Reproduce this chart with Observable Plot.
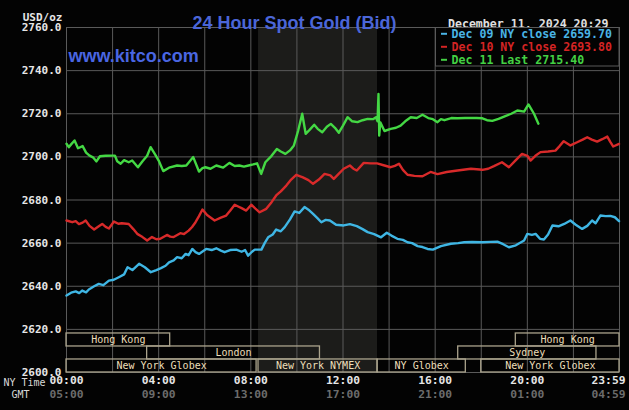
<!DOCTYPE html>
<html><head><meta charset="utf-8">
<script src="https://cdn.jsdelivr.net/npm/d3@7"></script>
<script src="https://cdn.jsdelivr.net/npm/@observablehq/plot@0.6"></script>
<style>
html,body{margin:0;padding:0;background:#000;}
#chart svg{display:block;}
</style>
</head><body><div id="chart"></div>
<script>
// ---- data ----
const yTicks = [2600, 2620, 2640, 2660, 2680, 2700, 2720, 2740, 2760];
const xGrid = [0, 2, 4, 6, 8, 10, 12, 14, 16, 18, 20, 22, 24];
const xTickHours = [0, 4, 8, 12, 16, 20];
const nyLabels = ["00:00", "04:00", "08:00", "12:00", "16:00", "20:00"];
const gmtLabels = ["05:00", "09:00", "13:00", "17:00", "21:00", "01:00"];
const endHour = [24];
const endNy = ["23:59"];
const endGmt = ["04:59"];
const nymexSpan = [[8.333, 13.5]];

const sessionNames = ["Hong Kong", "London", "New York Globex", "New York NYMEX", "NY Globex", "New York Globex", "Sydney", "Hong Kong"];
const sessionStart = [0, 3.5, 0, 8.333, 13.5, 18, 17, 19.5];
const sessionEnd = [4.5, 11, 8.25, 13.5, 17.33, 24, 23, 24];
const sessionRow = [0, 1, 2, 2, 2, 2, 1, 0];

const seriesNames = ["Dec 09 NY close 2659.70", "Dec 10 NY close 2693.80", "Dec 11 Last 2715.40"];
const titleText = "24 Hour Spot Gold (Bid)";
const siteText = "www.kitco.com";
const dateText = "December 11, 2024 20:29";
const unitText = "USD/oz";

const dec09 = [[0,2635.7],[0.2,2637.0],[0.4,2637.6],[0.55,2636.8],[0.68,2638.0],[0.85,2637.2],[0.97,2638.5],[1.2,2640.0],[1.4,2641.1],[1.6,2640.5],[1.84,2642.6],[2.05,2643.0],[2.27,2644.2],[2.5,2645.5],[2.65,2648.8],[2.86,2647.5],[3.15,2650.4],[3.4,2648.8],[3.66,2646.5],[3.9,2647.5],[4.1,2648.4],[4.3,2649.5],[4.45,2651.1],[4.65,2652.0],[4.8,2653.5],[5.0,2653.0],[5.17,2655.0],[5.3,2654.4],[5.46,2657.3],[5.6,2655.8],[5.75,2655.0],[6.06,2657.3],[6.3,2656.8],[6.5,2657.6],[6.7,2656.5],[6.86,2655.8],[7.1,2656.8],[7.37,2657.0],[7.6,2656.0],[7.75,2656.8],[7.88,2654.2],[8.05,2656.0],[8.17,2657.0],[8.46,2657.0],[8.6,2660.0],[8.75,2662.7],[8.95,2664.0],[9.1,2666.3],[9.3,2665.5],[9.47,2667.4],[9.7,2671.0],[9.9,2674.7],[10.1,2674.0],[10.33,2676.7],[10.5,2675.5],[10.7,2673.6],[10.9,2671.5],[11.06,2669.7],[11.25,2670.8],[11.43,2670.5],[11.7,2668.5],[12.03,2668.2],[12.3,2668.8],[12.6,2667.9],[12.85,2666.5],[13.07,2665.1],[13.35,2664.2],[13.65,2662.7],[13.9,2664.8],[14.1,2663.5],[14.36,2662.0],[14.6,2661.5],[14.8,2660.4],[15.0,2660.0],[15.24,2658.6],[15.45,2658.2],[15.67,2657.3],[15.9,2657.0],[16.25,2658.6],[16.68,2659.7],[17.0,2660.0],[17.26,2660.4],[17.6,2660.5],[18.05,2660.4],[18.4,2660.6],[18.7,2660.7],[18.95,2659.5],[19.2,2658.1],[19.5,2659.0],[19.86,2661.2],[20.0,2664.3],[20.2,2663.8],[20.36,2664.3],[20.55,2662.0],[20.72,2661.7],[20.9,2664.0],[21.09,2668.2],[21.35,2667.8],[21.6,2668.9],[21.87,2670.5],[22.1,2668.5],[22.38,2666.6],[22.6,2668.0],[22.81,2670.5],[22.96,2669.2],[23.17,2672.8],[23.4,2672.5],[23.6,2672.6],[23.8,2672.0],[23.98,2670.2]];

const dec10 = [[0,2670.5],[0.25,2669.7],[0.4,2670.2],[0.54,2668.8],[0.7,2669.5],[0.83,2670.5],[1.0,2668.0],[1.2,2666.3],[1.4,2667.8],[1.55,2668.9],[1.7,2667.5],[1.84,2666.8],[2.06,2670.0],[2.25,2669.0],[2.4,2669.2],[2.7,2668.9],[2.9,2666.5],[3.07,2664.3],[3.3,2662.8],[3.5,2661.2],[3.71,2662.8],[3.9,2661.8],[4.07,2662.0],[4.36,2663.8],[4.5,2663.0],[4.65,2662.8],[4.94,2664.6],[5.1,2664.2],[5.3,2665.8],[5.45,2667.5],[5.6,2669.7],[5.75,2672.5],[5.9,2675.6],[6.1,2673.0],[6.43,2670.5],[6.7,2671.8],[6.93,2672.8],[7.1,2675.0],[7.3,2677.8],[7.45,2677.0],[7.6,2676.2],[7.8,2675.1],[8.02,2677.8],[8.2,2676.0],[8.38,2674.3],[8.67,2675.9],[8.9,2679.0],[9.1,2682.1],[9.3,2684.0],[9.54,2686.7],[9.75,2689.5],[9.97,2691.7],[10.26,2690.5],[10.5,2689.2],[10.7,2687.5],[10.95,2689.5],[11.2,2692.1],[11.45,2691.4],[11.6,2689.8],[11.8,2692.0],[12.03,2694.5],[12.3,2696.0],[12.45,2694.5],[12.6,2693.7],[12.9,2697.2],[13.2,2697.0],[13.48,2697.0],[13.8,2696.0],[14.07,2695.2],[14.25,2695.8],[14.43,2696.8],[14.6,2694.0],[14.8,2691.7],[15.1,2691.2],[15.45,2691.0],[15.8,2693.0],[16.1,2692.0],[16.5,2693.0],[16.97,2693.7],[17.55,2694.5],[18.05,2694.0],[18.3,2694.5],[18.55,2695.7],[18.9,2697.5],[19.2,2695.2],[19.5,2698.5],[19.77,2701.4],[20.0,2700.5],[20.14,2698.3],[20.35,2700.5],[20.57,2702.2],[20.9,2702.5],[21.22,2702.9],[21.4,2705.0],[21.58,2707.3],[21.87,2705.3],[22.16,2706.8],[22.4,2708.0],[22.6,2709.1],[22.8,2708.0],[23.03,2707.1],[23.25,2708.2],[23.47,2709.4],[23.6,2707.0],[23.73,2704.8],[23.98,2706.0]];

const dec11 = [[0,2706.1],[0.1,2704.5],[0.2,2705.8],[0.35,2707.6],[0.5,2704.0],[0.7,2705.0],[0.85,2702.0],[1.0,2700.6],[1.15,2699.8],[1.3,2697.9],[1.45,2700.3],[1.7,2700.5],[2.0,2700.6],[2.1,2700.6],[2.2,2698.0],[2.35,2696.8],[2.5,2698.5],[2.7,2697.5],[2.85,2698.3],[3.1,2695.2],[3.3,2698.0],[3.5,2700.5],[3.65,2704.5],[3.85,2701.0],[4.0,2698.3],[4.2,2693.4],[4.45,2695.0],[4.8,2696.0],[5.0,2695.8],[5.2,2696.0],[5.5,2699.9],[5.75,2693.2],[5.9,2694.8],[6.03,2695.2],[6.25,2694.5],[6.5,2696.0],[6.8,2695.0],[7.07,2697.2],[7.3,2695.8],[7.5,2696.0],[7.7,2695.5],[7.9,2696.0],[8.1,2696.5],[8.27,2697.0],[8.45,2692.1],[8.63,2697.5],[8.9,2700.5],[9.13,2703.7],[9.3,2702.5],[9.5,2701.4],[9.7,2703.0],[9.87,2705.3],[10.05,2712.0],[10.23,2720.0],[10.38,2710.7],[10.55,2712.5],[10.75,2714.9],[10.9,2713.0],[11.1,2711.4],[11.3,2714.0],[11.47,2715.3],[11.65,2713.5],[11.82,2711.2],[12.0,2714.5],[12.2,2718.4],[12.4,2716.5],[12.63,2716.1],[12.85,2717.0],[13.07,2717.6],[13.3,2717.5],[13.43,2718.4],[13.5,2716.5],[13.54,2729.2],[13.57,2709.9],[13.62,2716.0],[13.8,2712.0],[14.07,2713.0],[14.3,2713.5],[14.5,2714.5],[14.7,2716.5],[14.94,2718.4],[15.2,2718.0],[15.45,2719.5],[15.7,2718.0],[15.9,2717.5],[16.1,2716.1],[16.25,2717.5],[16.4,2717.0],[16.7,2718.0],[16.97,2717.9],[17.3,2718.0],[17.8,2718.0],[18.05,2717.9],[18.25,2717.0],[18.48,2716.7],[18.75,2717.6],[18.99,2718.7],[19.3,2720.0],[19.57,2721.5],[19.86,2721.0],[20.05,2724.3],[20.29,2720.0],[20.48,2715.4]];

// ---- styling / layout ----
const seriesColors = ["#3fb6e4", "#d82a2a", "#44d844"];
const legendColors = ["#4ab4e6", "#d42424", "#44d044"];
const gridColor = "#5a5a5a";
const mono = "DejaVu Sans Mono, Liberation Mono, monospace";
const sans = "Liberation Sans, Arial, sans-serif";
const rowTop = 2618.1, rowH = 6.03;

const sessions = sessionNames.map((name, i) => ({name, start: sessionStart[i], end: sessionEnd[i], row: sessionRow[i]}));
const series = [dec09, dec10, dec11];

const plot = Plot.plot({
  width: 629, height: 410,
  marginLeft: 66, marginRight: 10, marginTop: 27, marginBottom: 38,
  style: {background: "#030303", color: "#e0e0e0", fontFamily: mono, overflow: "visible"},
  x: {domain: [0, 24], axis: null},
  y: {domain: [2600, 2760], axis: null},
  marks: [
    Plot.rect(nymexSpan, {x1: d => d[0], x2: d => d[1], fill: "#1c1c1a"}),
    Plot.ruleX(xGrid, {stroke: gridColor, strokeWidth: 1}),
    Plot.ruleY(yTicks, {stroke: gridColor, strokeWidth: 1}),
    Plot.rect(sessions, {x1: "start", x2: "end", y1: d => rowTop - (d.row + 1) * rowH, y2: d => rowTop - d.row * rowH, fill: "none", stroke: "#aaa38c", strokeWidth: 1.3}),
    Plot.text(sessions, {x: d => (d.start + d.end) / 2, y: d => rowTop - (d.row + 0.5) * rowH, text: "name", fill: "#ecdfb9", fontSize: 10, fontFamily: mono}),
    ...series.map((s, i) => Plot.line(s, {x: d => d[0], y: d => d[1], stroke: seriesColors[i], strokeWidth: 2.4, strokeLinejoin: "round"})),
    Plot.axisY(yTicks, {tickSize: 0, tickPadding: 5, tickFormat: d => d.toFixed(1), fill: "#e6e6e6", fontWeight: "bold", fontSize: 11, fontFamily: mono, label: null}),
    Plot.text(xTickHours, {x: d => d, text: (d, i) => nyLabels[i], frameAnchor: "bottom", dy: 11, fill: "#e6e6e6", fontWeight: "bold", fontSize: 11.3, fontFamily: mono}),
    Plot.text(xTickHours, {x: d => d, text: (d, i) => gmtLabels[i], frameAnchor: "bottom", dy: 25, fill: "#6c6c6c", fontWeight: "bold", fontSize: 11.3, fontFamily: mono}),
    Plot.text(endHour, {x: d => d, text: (d, i) => endNy[i], frameAnchor: "bottom", dy: 11, dx: 6, textAnchor: "end", fill: "#e6e6e6", fontWeight: "bold", fontSize: 11.3, fontFamily: mono}),
    Plot.text(endHour, {x: d => d, text: (d, i) => endGmt[i], frameAnchor: "bottom", dy: 25, dx: 6, textAnchor: "end", fill: "#6c6c6c", fontWeight: "bold", fontSize: 11.3, fontFamily: mono}),
    Plot.text(["NY Time"], {frameAnchor: "bottom-left", dx: -42, dy: 13, textAnchor: "middle", fill: "#d8d8d8", fontSize: 10, fontFamily: mono}),
    Plot.text(["GMT"], {frameAnchor: "bottom-left", dx: -46, dy: 25.5, textAnchor: "middle", fill: "#d8d8d8", fontSize: 10, fontFamily: mono}),
    Plot.text([unitText], {frameAnchor: "top-left", dx: -4, dy: -14.5, textAnchor: "end", fill: "#e6e6e6", fontWeight: "bold", fontSize: 11, fontFamily: mono}),
    Plot.text([titleText], {frameAnchor: "top-left", dx: 228, dy: -11, textAnchor: "middle", fill: "#4b66d8", fontWeight: "bold", fontSize: 18, fontFamily: sans}),
    Plot.text([siteText], {frameAnchor: "top-left", dx: 2, dy: 22, textAnchor: "start", fill: "#4a66e2", fontWeight: "bold", fontSize: 18, fontFamily: sans}),
    Plot.text([dateText], {frameAnchor: "top-right", dx: -11, dy: -8, textAnchor: "end", fill: "#e0e0e0", fontWeight: "bold", fontSize: 11.6, fontFamily: mono})
  ]
});
document.getElementById("chart").appendChild(plot);

// legend box (drawn on the plot's svg)
const svg = d3.select(plot);
const lg = svg.append("g").attr("text-anchor", "start");
lg.append("rect").attr("x", 435.5).attr("y", 27.5).attr("width", 183.5).attr("height", 38.5)
  .attr("fill", "#030303").attr("stroke", gridColor);
seriesNames.forEach((name, i) => {
  const cy = 33.8 + i * 13;
  lg.append("line").attr("x1", 441).attr("x2", 447).attr("y1", cy).attr("y2", cy)
    .attr("stroke", legendColors[i]).attr("stroke-width", 2);
  lg.append("text").attr("x", 451.5).attr("y", cy).attr("dy", "0.35em")
    .attr("text-anchor", "start")
    .attr("fill", legendColors[i]).attr("font-family", mono).attr("font-weight", "bold")
    .attr("font-size", 11.6).text(name);
});
</script>
</body></html>
